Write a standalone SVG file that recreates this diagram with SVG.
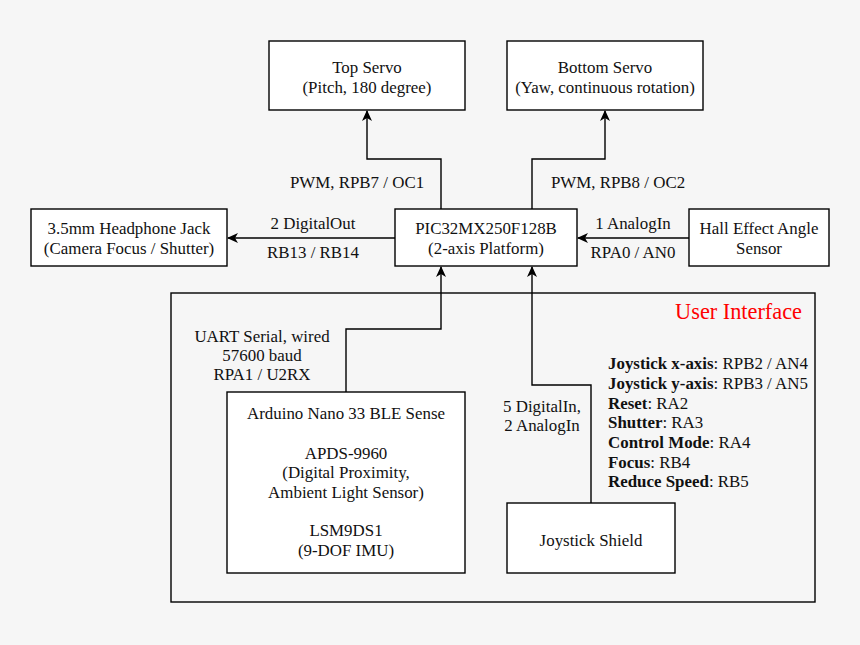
<svg xmlns="http://www.w3.org/2000/svg" width="860" height="645" viewBox="0 0 860 645">
<defs>
<marker id="arr" viewBox="0 0 11 10" refX="10" refY="5" markerWidth="11" markerHeight="10" markerUnits="userSpaceOnUse" orient="auto">
<path d="M0,0 L11,5 L0,10 L3,5 Z" fill="#000"/>
</marker>
<style>
.box{fill:#fff;stroke:#000;stroke-width:1.4}
text{font-family:'Liberation Serif','Times New Roman',serif;font-size:16.9px;fill:#111}
.m{text-anchor:middle}
.b{font-weight:bold}
.c{fill:none;stroke:#000;stroke-width:1.4}
</style>
</defs>
<rect width="860" height="645" fill="#f6f6f6"/>
<g id="ui-group">
<rect x="171" y="293" width="644" height="309" fill="none" stroke="#000" stroke-width="1.4"/>
<text x="802" y="319" text-anchor="end" style="font-size:22.3px;fill:#ff0000">User Interface</text>
</g>
<g id="connectors">
<polyline class="c" points="441,209 441,159 367,159 367,111" marker-end="url(#arr)"/>
<polyline class="c" points="532,209 532,159 605,159 605,111" marker-end="url(#arr)"/>
<polyline class="c" points="395,238 228,238" marker-end="url(#arr)"/>
<polyline class="c" points="689,238 578,238" marker-end="url(#arr)"/>
<polyline class="c" points="346,392 346,329 441,329 441,267" marker-end="url(#arr)"/>
<polyline class="c" points="591,503 591,385 532,385 532,267" marker-end="url(#arr)"/>
<text class="m" x="357" y="188">PWM, RPB7 / OC1</text>
<text class="m" x="618" y="188">PWM, RPB8 / OC2</text>
<text class="m" x="313" y="229">2 DigitalOut</text>
<text class="m" x="313" y="258">RB13 / RB14</text>
<text class="m" x="633" y="229">1 AnalogIn</text>
<text class="m" x="633" y="258">RPA0 / AN0</text>
<text class="m" x="262" y="342">UART Serial, wired</text>
<text class="m" x="262" y="361">57600 baud</text>
<text class="m" x="262" y="380">RPA1 / U2RX</text>
<text class="m" x="542" y="412">5 DigitalIn,</text>
<text class="m" x="542" y="431">2 AnalogIn</text>
</g>
<g id="top-servo">
<rect class="box" x="269" y="41" width="196" height="69"/>
<text class="m" x="367" y="73">Top Servo</text>
<text class="m" x="367" y="93">(Pitch, 180 degree)</text>
</g>
<g id="bottom-servo">
<rect class="box" x="507" y="41" width="196" height="69"/>
<text class="m" x="605" y="73">Bottom Servo</text>
<text class="m" x="605" y="93">(Yaw, continuous rotation)</text>
</g>
<g id="headphone-jack">
<rect class="box" x="31" y="209" width="196" height="57"/>
<text class="m" x="129" y="234">3.5mm Headphone Jack</text>
<text class="m" x="129" y="254">(Camera Focus / Shutter)</text>
</g>
<g id="pic32">
<rect class="box" x="395" y="209" width="182" height="57"/>
<text class="m" x="486" y="234">PIC32MX250F128B</text>
<text class="m" x="486" y="254">(2-axis Platform)</text>
</g>
<g id="hall-sensor">
<rect class="box" x="689" y="209" width="140" height="57"/>
<text class="m" x="759" y="234">Hall Effect Angle</text>
<text class="m" x="759" y="254">Sensor</text>
</g>
<g id="arduino">
<rect class="box" x="227" y="392" width="238" height="181"/>
<text class="m" x="346" y="419">Arduino Nano 33 BLE Sense</text>
<text class="m" x="346" y="459">APDS-9960</text>
<text class="m" x="346" y="478">(Digital Proximity,</text>
<text class="m" x="346" y="498">Ambient Light Sensor)</text>
<text class="m" x="346" y="536">LSM9DS1</text>
<text class="m" x="346" y="556">(9-DOF IMU)</text>
</g>
<g id="joystick-shield">
<rect class="box" x="507" y="503" width="168" height="70"/>
<text class="m" x="591" y="546">Joystick Shield</text>
</g>
<g id="pin-list">
<text x="608" y="369"><tspan class="b">Joystick x-axis</tspan>: RPB2 / AN4</text>
<text x="608" y="389"><tspan class="b">Joystick y-axis</tspan>: RPB3 / AN5</text>
<text x="608" y="409"><tspan class="b">Reset</tspan>: RA2</text>
<text x="608" y="428"><tspan class="b">Shutter</tspan>: RA3</text>
<text x="608" y="448"><tspan class="b">Control Mode</tspan>: RA4</text>
<text x="608" y="468"><tspan class="b">Focus</tspan>: RB4</text>
<text x="608" y="487"><tspan class="b">Reduce Speed</tspan>: RB5</text>
</g>
</svg>
